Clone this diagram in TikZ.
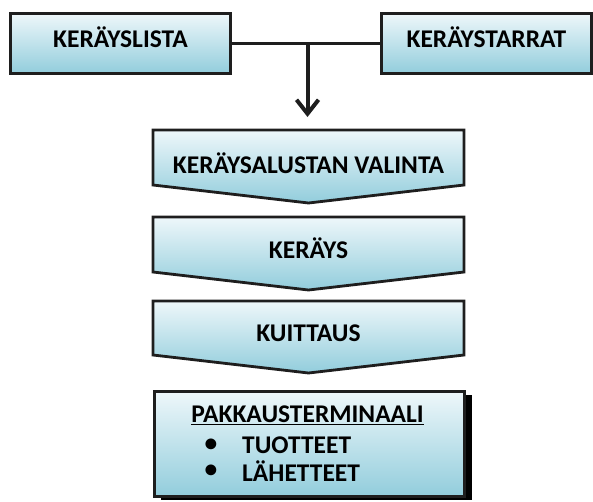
\documentclass[tikz,border=0pt]{standalone}
\usepackage{fontspec}
\setmainfont{Carlito}
\usetikzlibrary{arrows.meta}
\definecolor{boxtop}{HTML}{EEF7FA}
\definecolor{boxbot}{HTML}{92CDDC}
\definecolor{edge}{HTML}{1E1E1E}
\begin{document}
\begin{tikzpicture}[x=1pt,y=-1pt,
  caption/.style={font=\bfseries\fontsize{25.5}{28}\selectfont, text=black, inner sep=0pt},
  frame/.style={draw=edge, line width=2.8pt, line join=miter},
  gradfill/.style={top color=boxtop, bottom color=boxbot},
  sourcebox/.style={frame, gradfill, minimum height=60pt, inner sep=0pt, anchor=north west},
  connector/.style={draw=edge, line width=2.8pt}
]
\useasboundingbox (0,0) rectangle (593,501);

% source boxes and their joining line
\node[sourcebox, minimum width=220pt] (list) at (9,12) {};
\node[caption] (listtext) at ([yshift=6pt]list.center) {KERÄYSLISTA};
\node[sourcebox, minimum width=210pt] (tags) at (380,12) {};
\node[caption] (tagstext) at ([yshift=6pt]tags.center) {KERÄYSTARRAT};
\draw[connector] (list.east) -- (tags.west);
\coordinate (join) at (307.5,42);
\coordinate (drop) at (307.5,117);
\draw[connector, line width=4pt, -{Straight Barb[length=14pt, width=22pt, line width=4pt]}] (join) -- (drop);

% chevron step: #1 top, #2 bottom of the sides, #3 tip
\newcommand{\chevronstep}[3]{%
  \shade[gradfill] (153,#1) -- (464,#1) -- (464,#2) -- (308.5,#3) -- (153,#2) -- cycle;
  \draw[frame] (153,#1) -- (464,#1) -- (464,#2) -- (308.5,#3) -- (153,#2) -- cycle;}

\chevronstep{130}{185}{203}
\node[caption] (select) at (308.5,163) {KERÄYSALUSTAN VALINTA};
\chevronstep{217}{272}{290}
\node[caption] (pick) at (308.5,248) {KERÄYS};
\chevronstep{301}{355}{373}
\node[caption] (confirm) at (308.5,333) {KUITTAUS};

% packing terminal with drop shadow
\fill[black] (161,395) rectangle (472,500);
\node[frame, gradfill, minimum width=310pt, minimum height=105pt, inner sep=0pt, anchor=north west] (pack) at (153,390) {};
\node[caption] (packtitle) at (307.5,415) {\underline{PAKKAUSTERMINAALI}};
\node[caption, anchor=center] (b1) at (211,445) {•};
\node[caption, anchor=west] (item1) at (242,445) {TUOTTEET};
\node[caption, anchor=center] (b2) at (211,471) {•};
\node[caption, anchor=west] (item2) at (242,471) {LÄHETTEET};
\end{tikzpicture}
\end{document}
